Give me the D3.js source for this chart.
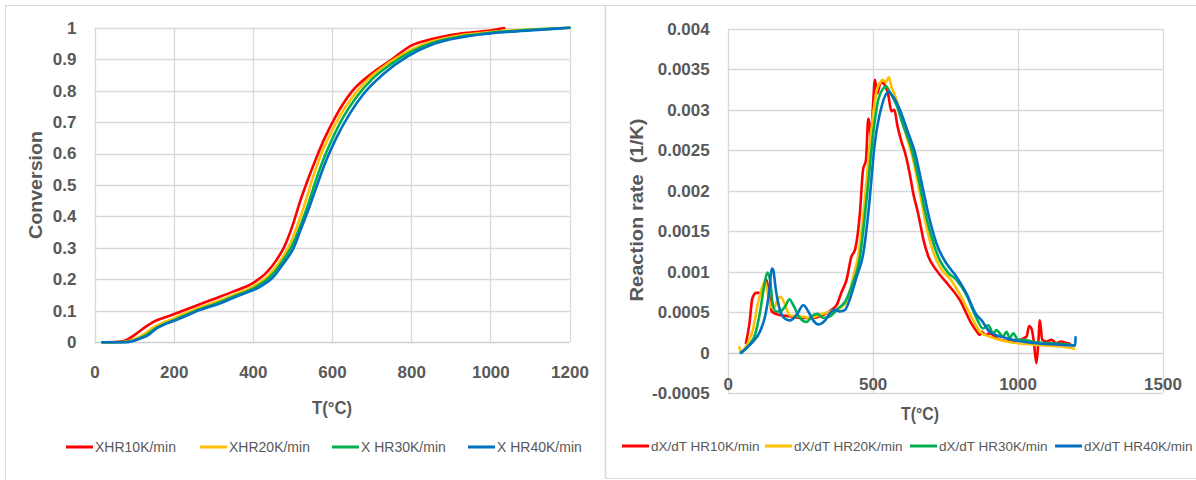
<!DOCTYPE html>
<html>
<head>
<meta charset="utf-8">
<script src="https://cdn.jsdelivr.net/npm/d3@7"></script>
<style>
  html, body { margin: 0; padding: 0; background: #ffffff; }
  svg { display: block; }
  text { font-family: "Liberation Sans", Arial, sans-serif; }
</style>
</head>
<body>
<svg id="chart" width="1196" height="480"></svg>
<script>
// ---------- Left chart: conversion ----------
const convTicks = [0, 0.1, 0.2, 0.3, 0.4, 0.5, 0.6, 0.7, 0.8, 0.9, 1];
const tempTicksL = [0, 200, 400, 600, 800, 1000, 1200];

const tX10 = [20,60,80,105,130,150,175,200,250,300,350,400,435,460,480,500,520,540,560,580,610,650,700,750,800,850,900,950,1000,1035];
const X10  = [0,0.002,0.007,0.027,0.05,0.066,0.078,0.089,0.113,0.137,0.161,0.188,0.222,0.262,0.305,0.37,0.45,0.52,0.585,0.645,0.72,0.797,0.854,0.898,0.943,0.963,0.977,0.985,0.991,0.999];

const tX20 = [20,70,90,110,130,150,175,200,250,300,350,400,440,470,495,515,535,552,570,595,620,655,690,740,800,850,900,1000,1100,1200];
const X20  = [0,0.001,0.005,0.015,0.03,0.048,0.063,0.076,0.103,0.126,0.15,0.177,0.213,0.26,0.315,0.38,0.455,0.525,0.59,0.66,0.72,0.785,0.835,0.885,0.93,0.955,0.97,0.986,0.994,1.0];

const tX30 = [20,75,95,115,135,155,180,205,255,305,355,405,445,475,500,520,540,558,578,602,628,662,700,750,800,850,900,1000,1100,1200];
const X30  = [0,0.001,0.004,0.013,0.027,0.045,0.06,0.073,0.1,0.122,0.147,0.174,0.21,0.258,0.31,0.37,0.44,0.51,0.58,0.65,0.715,0.78,0.835,0.885,0.924,0.95,0.966,0.984,0.993,1.0];

const tX40 = [20,80,100,115,136,157,183,217,267,318,368,419,452,477,503,520,540,561,586,611,645,678,729,792,850,900,1000,1100,1200];
const X40  = [0,0,0.005,0.012,0.023,0.044,0.06,0.076,0.103,0.124,0.15,0.177,0.208,0.25,0.3,0.355,0.42,0.495,0.58,0.65,0.727,0.787,0.852,0.91,0.945,0.963,0.982,0.991,1.0];

const convNames = ["XHR10K/min", "XHR20K/min", "X HR30K/min", "X HR40K/min"];

// ---------- Right chart: reaction rate ----------
const rateTicks = [-0.0005, 0, 0.0005, 0.001, 0.0015, 0.002, 0.0025, 0.003, 0.0035, 0.004];
const rateTickLabels = ["-0.0005", "0", "0.0005", "0.001", "0.0015", "0.002", "0.0025", "0.003", "0.0035", "0.004"];
const tempTicksR = [0, 500, 1000, 1500];

const tR10 = [63,75,85,98,114,129,134,144,152,175,215,255,295,330,359,376,393,410,427,439,456,467,477,485,490,494,502,508,516,528,539,554,565,575,585,600,611,628,640,657,675,692,720,761,801,841,860,870,876,890,904,939,985,1031,1040,1048,1056,1065,1071,1077,1085,1100,1117,1134,1151,1169,1180];
const R10  = [0.00012,0.00036,0.00067,0.00074,0.00074,0.00088,0.0009,0.00069,0.00051,0.00047,0.00045,0.00043,0.00043,0.00047,0.00053,0.00059,0.00075,0.0009,0.00119,0.00127,0.00172,0.00226,0.00238,0.00289,0.0028,0.00263,0.0031,0.00337,0.0032,0.00334,0.00332,0.00318,0.00298,0.003,0.00281,0.0026,0.00248,0.00221,0.00197,0.00172,0.0014,0.00119,0.00102,0.00084,0.00065,0.00036,0.00026,0.00022,0.00026,0.00022,0.00024,0.00016,0.00014,0.0002,0.00033,0.0003,0.00014,-0.00013,0.0001,0.0004,0.00016,0.00014,0.00016,0.00012,0.00014,0.00012,0.00011];

const tR20 = [40,45,65,88,102,114,129,140,148,160,171,183,198,215,249,284,318,353,387,416,433,450,473,491,502,514,525,534,545,556,565,577,589,617,640,663,686,703,732,772,801,830,853,870,904,962,1054,1146,1195];
const R20  = [0.00007,0.00001,0.00009,0.0003,0.00057,0.00075,0.00088,0.00069,0.00057,0.00055,0.00065,0.00069,0.00059,0.00046,0.00045,0.00043,0.00047,0.00051,0.00055,0.00067,0.00094,0.00119,0.00189,0.0026,0.00295,0.00324,0.00333,0.00337,0.00334,0.0034,0.00328,0.00318,0.00304,0.00267,0.00238,0.00197,0.00155,0.00131,0.00106,0.00089,0.00072,0.00052,0.00036,0.00026,0.0002,0.00014,0.0001,0.00008,0.00005];

const tR30 = [48,71,94,111,125,137,146,155,166,180,198,213,226,249,272,293,309,330,353,382,405,427,456,479,502,519,536,546,559,582,605,634,657,680,703,732,760,789,824,858,881,899,916,927,950,962,973,985,1002,1019,1060,1100,1146,1195];
const R30  = [0,0.00008,0.00022,0.00049,0.00081,0.00099,0.0009,0.00061,0.00051,0.00051,0.00057,0.00066,0.00059,0.00043,0.00038,0.00046,0.00048,0.00043,0.00045,0.00055,0.00063,0.00082,0.00118,0.00189,0.00271,0.00312,0.00326,0.00329,0.00322,0.00306,0.00281,0.00252,0.00217,0.00176,0.00143,0.00114,0.00099,0.0009,0.00071,0.00043,0.0003,0.00034,0.00024,0.00028,0.0002,0.00026,0.00018,0.00024,0.00016,0.00016,0.00013,0.00012,0.00011,0.00009];

const tR40 = [45,65,88,111,129,144,152,157,166,180,198,215,238,261,278,295,313,336,353,370,387,405,422,445,468,485,508,531,554,571,594,623,646,669,697,720,755,789,824,856,876,904,962,1054,1146,1199,1200];
const R40  = [0,0.00006,0.00014,0.00026,0.00045,0.00078,0.00104,0.00102,0.00078,0.00053,0.00042,0.0004,0.00047,0.00059,0.00051,0.0004,0.00035,0.0004,0.00049,0.00053,0.00051,0.00053,0.00067,0.00094,0.00123,0.00172,0.0026,0.00304,0.00322,0.00316,0.003,0.00271,0.00247,0.0021,0.00164,0.00135,0.0011,0.00094,0.00073,0.00048,0.0004,0.00026,0.00018,0.00012,0.0001,0.00009,0.00019];

const rateNames = ["dX/dT HR10K/min", "dX/dT HR20K/min", "dX/dT HR30K/min", "dX/dT HR40K/min"];

const colors = ["#FF0000", "#FFC000", "#00B050", "#0070C0"];

// ---------- drawing ----------
const svg = d3.select("#chart");
const gridCol = "#d9d9d9";
const textCol = "#595959";

// panel borders
svg.append("line").attr("x1", 5.5).attr("x2", 1196).attr("y1", 5.5).attr("y2", 5.5).attr("stroke", gridCol);
svg.append("line").attr("x1", 5.5).attr("x2", 5.5).attr("y1", 5.5).attr("y2", 480).attr("stroke", gridCol);
svg.append("line").attr("x1", 605.5).attr("x2", 605.5).attr("y1", 5.5).attr("y2", 478.5).attr("stroke", gridCol).attr("stroke-width", 1.5);
svg.append("line").attr("x1", 605.5).attr("x2", 1196).attr("y1", 478.5).attr("y2", 478.5).attr("stroke", gridCol);

function zipPts(ts, vs) { return ts.map((t, i) => [t, vs[i]]); }

function drawChart(opt) {
  const g = svg.append("g");
  const x = opt.x, y = opt.y;
  // grid
  g.selectAll(".vg").data(opt.xTicks).enter().append("line")
    .attr("x1", d => Math.round(x(d)) + 0.5).attr("x2", d => Math.round(x(d)) + 0.5)
    .attr("y1", y.range()[1]).attr("y2", y.range()[0])
    .attr("stroke", gridCol).attr("stroke-width", 1.3);
  g.selectAll(".hg").data(opt.yTicks).enter().append("line")
    .attr("x1", x.range()[0]).attr("x2", x.range()[1])
    .attr("y1", d => Math.round(y(d)) + 0.5).attr("y2", d => Math.round(y(d)) + 0.5)
    .attr("stroke", d => d === 0 ? "#cfcfcf" : gridCol).attr("stroke-width", 1.3);

  // axes (labels only)
  const ya = d3.axisLeft(y).tickValues(opt.yTicks).tickSize(0).tickPadding(18)
    .tickFormat((d, i) => opt.yLabels ? opt.yLabels[i] : String(d));
  const yg = g.append("g").attr("transform", `translate(${x.range()[0]},0)`).call(ya);
  const xa = d3.axisBottom(x).tickValues(opt.xTicks).tickSize(0).tickPadding(opt.xPad)
    .tickFormat(d => String(d));
  const xg = g.append("g").attr("transform", `translate(0,${y(opt.xAxisAt)})`).call(xa);
  [yg, xg].forEach(a => {
    a.select(".domain").remove();
    a.selectAll("text").attr("font-family", "'Liberation Sans', Arial, sans-serif")
      .attr("font-size", 17).attr("font-weight", "bold").attr("fill", textCol);
  });

  // series
  const line = d3.line().x(d => x(d[0])).y(d => y(d[1])).curve(d3.curveMonotoneX);
  opt.series.forEach((s, i) => {
    g.append("path").attr("d", line(s)).attr("fill", "none")
      .attr("stroke", colors[i]).attr("stroke-width", 2.6)
      .attr("stroke-linejoin", "round").attr("stroke-linecap", "round");
  });

  // axis titles
  g.append("text").attr("x", opt.xTitle[0]).attr("y", opt.xTitle[1])
    .attr("text-anchor", "middle").attr("font-size", 19).attr("font-weight", "bold")
    .attr("fill", textCol).attr("textLength", opt.xTitle[2]).attr("lengthAdjust", "spacingAndGlyphs")
    .text("T(°C)");
  g.append("text")
    .attr("transform", `translate(${opt.yTitle[0]},${opt.yTitle[1]}) rotate(-90)`)
    .attr("text-anchor", "middle").attr("font-size", 19).attr("font-weight", "bold")
    .attr("fill", textCol).attr("textLength", opt.yTitle[3]).attr("lengthAdjust", "spacingAndGlyphs")
    .attr("xml:space", "preserve").style("white-space", "pre")
    .text(opt.yTitle[2]);

  // legend
  opt.names.forEach((n, i) => {
    const lx = opt.legendX[i];
    g.append("line").attr("x1", lx).attr("x2", lx + 27)
      .attr("y1", opt.legendY).attr("y2", opt.legendY)
      .attr("stroke", colors[i]).attr("stroke-width", 3);
    g.append("text").attr("x", lx + 29).attr("y", opt.legendY + 5)
      .attr("font-size", opt.legendFont).attr("fill", textCol)
      .text(n);
  });
}

drawChart({
  x: d3.scaleLinear().domain([0, 1200]).range([94.5, 569.5]),
  y: d3.scaleLinear().domain([0, 1]).range([342.3, 27.7]),
  xTicks: tempTicksL, yTicks: convTicks, xAxisAt: 0, xPad: 24,
  series: [zipPts(tX10, X10), zipPts(tX20, X20), zipPts(tX30, X30), zipPts(tX40, X40)],
  xTitle: [332, 414, 40],
  yTitle: [42, 185, "Conversion", 108],
  names: convNames, legendX: [66, 200, 332, 468], legendY: 447, legendFont: 14
});

drawChart({
  x: d3.scaleLinear().domain([0, 1500]).range([727.7, 1162.5]),
  y: d3.scaleLinear().domain([-0.0005, 0.004]).range([393.3, 28.7]),
  xTicks: tempTicksR, yTicks: rateTicks, yLabels: rateTickLabels, xAxisAt: 0, xPad: 25,
  series: [zipPts(tR10, R10), zipPts(tR20, R20), zipPts(tR30, R30), zipPts(tR40, R40)],
  xTitle: [920, 420, 38],
  yTitle: [643, 210, "Reaction rate  (1/K)", 183],
  names: rateNames, legendX: [622, 765, 910, 1055], legendY: 446, legendFont: 13.5
});
</script>
</body>
</html>
